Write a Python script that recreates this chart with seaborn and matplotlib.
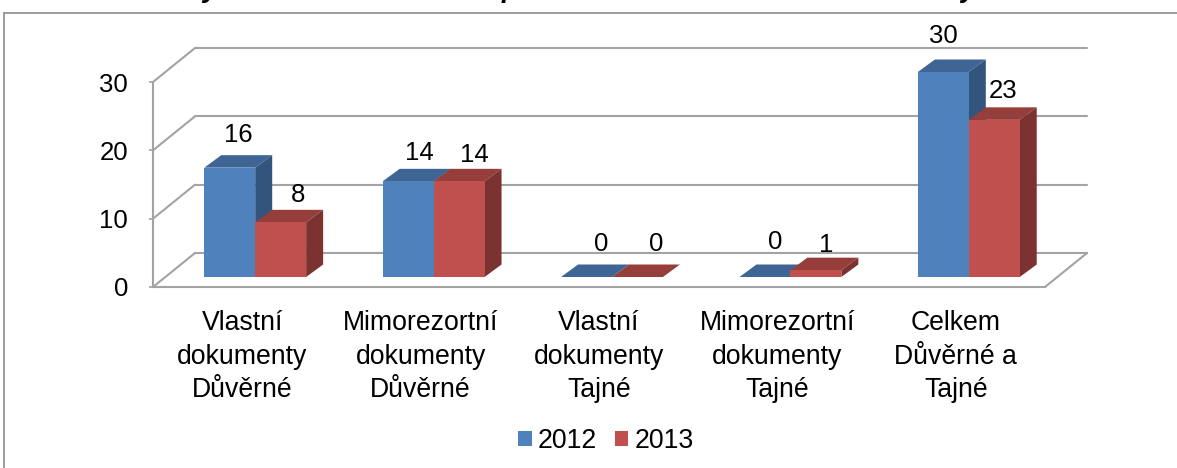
import matplotlib
matplotlib.use("Agg")
import matplotlib.pyplot as plt
from matplotlib.lines import Line2D
from matplotlib.patches import Patch, Polygon
import pandas as pd
import seaborn as sns

categories = ["Vlastní\ndokumenty\nDůvěrné", "Mimorezortní\ndokumenty\nDůvěrné",
              "Vlastní\ndokumenty\nTajné", "Mimorezortní\ndokumenty\nTajné",
              "Celkem\nDůvěrné a\nTajné"]
values_2012 = [16, 14, 0, 0, 30]
values_2013 = [8, 14, 0, 1, 23]
years = ["2012", "2013"]
y_ticks = [0, 10, 20, 30]

sns.set_style("white")
plt.rcParams["font.family"] = ["Liberation Sans", "DejaVu Sans"]
plt.rcParams["text.color"] = "black"

W, H = 1177, 468
FS = 18.5
FS_CAT = 19.2
FS_LEG = 19.2
GRID = "#A3A3A3"
FRONT = {"2012": "#4F81BD", "2013": "#C0504D"}
TOP = {"2012": "#3E6594", "2013": "#953E3B"}
SIDE = {"2012": "#33547D", "2013": "#7B3230"}

fig = plt.figure(figsize=(W / 100, H / 100), dpi=100, facecolor="white")
ax = fig.add_axes([153 / W, 1 - 287 / H, 892 / W, 205 / H])

df = pd.DataFrame({
    "category": categories * 2,
    "year": [years[0]] * 5 + [years[1]] * 5,
    "value": values_2012 + values_2013,
})
sns.barplot(data=df, x="category", y="value", hue="year", palette=FRONT,
            hue_order=years, width=0.571, gap=0, saturation=1, legend=False,
            ax=ax, zorder=3)

ax.set_xlim(-0.5, 4.5)
ax.set_ylim(0, 30)
px_x = 5 / 892
px_y = 30 / 205


def x_px(n):
    return n * px_x


def y_px(n):
    return n * px_y


# back wall and floor of the 3-D box
line_kw = dict(color=GRID, lw=1.5, clip_on=False, zorder=1, solid_capstyle="round")
dx_back, dy_back = x_px(42), y_px(34)
for t in y_ticks:
    ax.plot([-0.5 + dx_back, 4.5 + dx_back], [t + dy_back, t + dy_back], **line_kw)
    ax.plot([-0.5, -0.5 + dx_back], [t, t + dy_back], **line_kw)
ax.plot([4.5, 4.5 + dx_back], [0, dy_back], **line_kw)

# bars, with their visible top and side faces
dx_bar, dy_bar = x_px(13), y_px(10)
dx_depth, dy_depth = x_px(17), y_px(12.5)
label_off = {"2012": [(9, 33), (11, 28), (15, 33), (10, 35), (0, 36)],
             "2013": [(17, 27), (15, 26), (19, 33), (10, 25), (9, 29)]}
for year, cont in zip(years, ax.containers):
    for bar, off in zip(cont, label_off[year]):
        bar.set_x(bar.get_x() + dx_bar)
        bar.set_y(bar.get_y() + dy_bar)
        bar.set_clip_on(False)
        bar.set_linewidth(0)
        x0, x1 = bar.get_x(), bar.get_x() + bar.get_width()
        y0, y1 = bar.get_y(), bar.get_y() + bar.get_height()
        ax.add_patch(Polygon([(x0, y1), (x1, y1), (x1 + dx_depth, y1 + dy_depth), (x0 + dx_depth, y1 + dy_depth)],
                             closed=True, fc=TOP[year], ec="none", clip_on=False,
                             zorder=3 if year == "2012" else 3.2))
        ax.add_patch(Polygon([(x1, y0), (x1 + dx_depth, y0 + dy_depth), (x1 + dx_depth, y1 + dy_depth), (x1, y1)],
                             closed=True, fc=SIDE[year], ec="none", clip_on=False,
                             zorder=3 if year == "2012" else 3.2))
        ax.annotate(f"{bar.get_height():.0f}", ((x0 + x1) / 2, y1), xytext=(off[0] * 0.72, off[1] * 0.72),
                    textcoords="offset points", ha="center", va="center", fontsize=FS,
                    color="black", zorder=6, annotation_clip=False)
    for bar in cont:
        bar.set_zorder(3.1 if year == "2012" else 3.3)

ax.set_xlabel("")
ax.set_ylabel("")
ax.set_yticks(y_ticks)
ax.tick_params(axis="y", length=3, width=1.2, color=GRID, labelcolor="black", pad=15, labelsize=FS, left=True)
ax.tick_params(axis="x", length=0, pad=16.5, labelcolor="black", labelsize=FS_CAT)
for lab in ax.get_xticklabels():
    lab.set_linespacing(1.38)
sns.despine(ax=ax, top=True, right=True)
for s in ("left", "bottom"):
    ax.spines[s].set_color(GRID)
    ax.spines[s].set_linewidth(1.5)
ax.patch.set_alpha(0)

ax.legend(handles=[Patch(fc=FRONT[y], ec="none", label=y) for y in years], ncol=2,
          frameon=False, loc="center", bbox_to_anchor=(606 / W, 1 - 441 / H),
          bbox_transform=fig.transFigure, fontsize=FS_LEG, handlelength=0.49, handleheight=0.49,
          handletextpad=0.22, columnspacing=0.7, borderpad=0, labelspacing=0,
          labelcolor="black")

# outer chart frame, running off the right and bottom of the image
frame = dict(color="#8C8C8C", lw=1.2, transform=fig.transFigure)
fig.add_artist(Line2D([4 / W, 1], [1 - 13 / H, 1 - 13 / H], **frame))
fig.add_artist(Line2D([4 / W, 4 / W], [0, 1 - 13 / H], **frame))

# the cropped chart title: only descenders remain inside the image
for ch, px in zip("ypy", (210, 510, 968)):
    fig.text(px / W, 1 + 3 / H, ch, fontsize=20, fontweight="bold", fontstyle="italic",
             ha="center", va="baseline", color="black")

fig.savefig("out.png", dpi=100, facecolor="white")
